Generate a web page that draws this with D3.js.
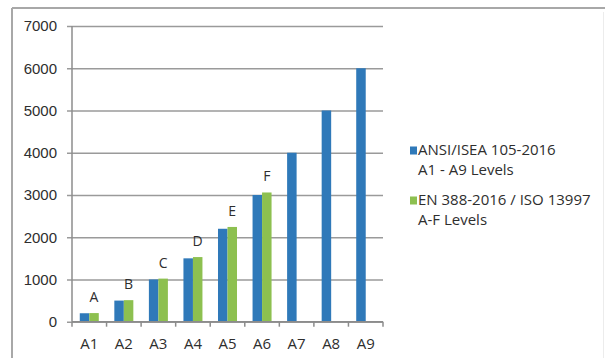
<!DOCTYPE html>
<html>
<head>
<meta charset="utf-8">
<script src="https://cdn.jsdelivr.net/npm/d3@7"></script>
<style>
  html, body { margin: 0; padding: 0; background: #fff; }
  svg { display: block; font-family: "Open Sans", "DejaVu Sans", sans-serif; }
</style>
</head>
<body>
<svg id="chart" width="605" height="358"></svg>
<script>
// Cut-resistance levels: ANSI/ISEA 105-2016 (grams) vs EN 388-2016 / ISO 13997 (converted to grams)
const categories = ["A1", "A2", "A3", "A4", "A5", "A6", "A7", "A8", "A9"];
const ansiValues = [200, 500, 1000, 1500, 2200, 3000, 4000, 5000, 6000];
const enValues = [204, 510, 1020, 1530, 2243, 3059, null, null, null];
const enLabels = ["A", "B", "C", "D", "E", "F", null, null, null];
const yTicks = [0, 1000, 2000, 3000, 4000, 5000, 6000, 7000];
const seriesNames = ["ANSI", "EN"];
const legendLines = [
  ["ANSI/ISEA 105-2016", "A1 - A9 Levels"],
  ["EN 388-2016 / ISO 13997", "A-F Levels"]
];
const colors = { ANSI: "#2f79b9", EN: "#8dc050" };
const textColor = "#2e2e2e";

const svg = d3.select("#chart");

// outer frame
svg.append("line").attr("x1", 12).attr("x2", 605).attr("y1", 8).attr("y2", 8)
  .attr("stroke", "#a8a8a8").attr("stroke-width", 2);
svg.append("line").attr("x1", 12).attr("x2", 12).attr("y1", 8).attr("y2", 358)
  .attr("stroke", "#a8a8a8").attr("stroke-width", 2);
svg.append("line").attr("x1", 603.5).attr("x2", 603.5).attr("y1", 12).attr("y2", 358)
  .attr("stroke", "#ececec").attr("stroke-width", 1);

const plot = { left: 72, right: 383, top: 26, bottom: 321.7 };

const y = d3.scaleLinear().domain([0, 7000]).range([plot.bottom, plot.top]);
const x = d3.scaleBand().domain(categories).range([plot.left, plot.right])
  .paddingInner(0.45).paddingOuter(0.225);
const xSub = d3.scaleBand().domain(seriesNames).range([0, x.bandwidth()]);

// horizontal gridlines with left tick marks
const yAxis = d3.axisLeft(y).tickValues(yTicks).tickSize(-(plot.right - plot.left)).tickPadding(12)
  .tickFormat(d3.format("d"));
const gy = svg.append("g").attr("transform", `translate(${plot.left},0)`).call(yAxis);
gy.select(".domain").remove();
gy.selectAll(".tick line").attr("stroke", "#9a9a9a").attr("stroke-width", 1.6)
  .attr("x1", -5);
gy.selectAll(".tick text").attr("fill", textColor).attr("font-size", 15).attr("x", -15);

// vertical axis line
svg.append("line").attr("x1", plot.left).attr("x2", plot.left)
  .attr("y1", plot.top).attr("y2", plot.bottom)
  .attr("stroke", "#8c8c8c").attr("stroke-width", 1.5);

// bars
const groups = svg.append("g").selectAll("g").data(categories).join("g")
  .attr("transform", d => `translate(${x(d)},0)`);

groups.append("rect")
  .attr("x", xSub("ANSI")).attr("width", xSub.bandwidth())
  .attr("y", (d, i) => y(ansiValues[i]))
  .attr("height", (d, i) => y(0) - y(ansiValues[i]))
  .attr("fill", colors.ANSI);

groups.filter((d, i) => enValues[i] != null).append("rect")
  .attr("x", xSub("EN")).attr("width", xSub.bandwidth())
  .attr("y", d => y(enValues[categories.indexOf(d)]))
  .attr("height", d => y(0) - y(enValues[categories.indexOf(d)]))
  .attr("fill", colors.EN);

// EN level letters above the green bars
groups.filter((d, i) => enLabels[i] != null).append("text")
  .attr("x", xSub("EN") + xSub.bandwidth() / 2)
  .attr("y", d => y(enValues[categories.indexOf(d)]) - 11)
  .attr("text-anchor", "middle").attr("font-size", 14).attr("fill", textColor)
  .text(d => enLabels[categories.indexOf(d)]);

// x axis with ticks between categories
const gx = svg.append("g").attr("transform", `translate(0,${plot.bottom})`);
gx.append("line").attr("x1", plot.left).attr("x2", plot.right)
  .attr("stroke", "#8c8c8c").attr("stroke-width", 1.5);
const step = x.step();
const boundaries = d3.range(categories.length + 1).map(i => plot.left + i * step);
gx.selectAll(".xt").data(boundaries).join("line").attr("class", "xt")
  .attr("x1", d => d).attr("x2", d => d).attr("y1", 0).attr("y2", 5)
  .attr("stroke", "#8c8c8c").attr("stroke-width", 1.5);
gx.selectAll(".xl").data(categories).join("text").attr("class", "xl")
  .attr("x", d => x(d) + x.bandwidth() / 2).attr("y", 27)
  .attr("text-anchor", "middle").attr("font-size", 15).attr("fill", textColor)
  .text(d => d);

// legend
const legend = svg.append("g").attr("transform", "translate(410,0)");
const legendY = [155, 205];
seriesNames.forEach((s, i) => {
  legend.append("rect").attr("x", 0).attr("y", legendY[i] - 8.5).attr("width", 7).attr("height", 8)
    .attr("fill", colors[s]);
  legendLines[i].forEach((t, j) => {
    legend.append("text").attr("x", 8).attr("y", legendY[i] + j * 19.5)
      .attr("font-size", 15).attr("fill", textColor).text(t);
  });
});
</script>
</body>
</html>
